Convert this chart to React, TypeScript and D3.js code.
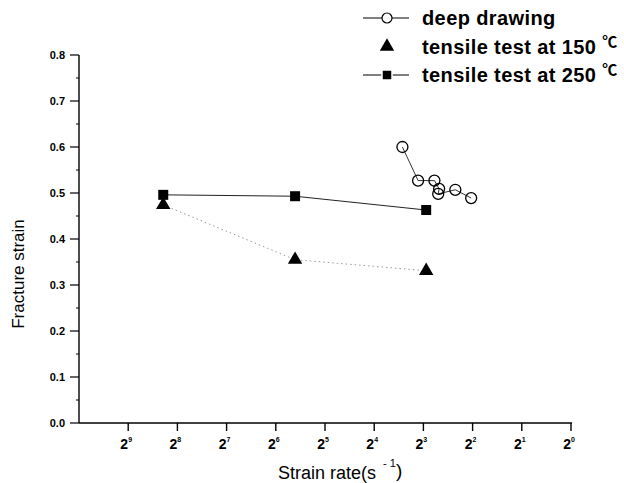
import React, { useEffect, useRef } from "react";
import * as d3 from "d3";

// strain rate (s^-1) and fracture strain
const deepRate = [0.093, 0.116, 0.146, 0.156, 0.154, 0.196, 0.245];
const deepStrain = [0.6, 0.527, 0.527, 0.509, 0.498, 0.507, 0.489];

const tensileRate = [0.0032, 0.0205, 0.13];
const strain150 = [0.474, 0.355, 0.331];
const strain250 = [0.496, 0.493, 0.463];

const yTicks = [0, 0.1, 0.2, 0.3, 0.4, 0.5, 0.6, 0.7, 0.8];
const xExponents = [9, 8, 7, 6, 5, 4, 3, 2, 1, 0];

const legendLabels = ["deep drawing", "tensile test at 150 ", "tensile test at 250 "];

const App = () => {
  const ref = useRef<SVGSVGElement>(null);

  useEffect(() => {
    const svg = d3.select(ref.current);
    svg.selectAll("*").remove();

    const font = "'Liberation Sans', Arial, sans-serif";
    const x = d3.scaleLog().base(2).domain([Math.pow(2, -10), 1]).range([79, 571]);
    const y = d3.scaleLinear().domain([0, 0.8]).range([423, 55]);

    const g = svg.append("g");

    // y axis
    g.append("line").attr("x1", 79).attr("x2", 79).attr("y1", y(0.8)).attr("y2", y(0))
      .attr("stroke", "#000").attr("stroke-width", 1.4);
    yTicks.forEach((t) => {
      g.append("line").attr("x1", 70).attr("x2", 79).attr("y1", y(t)).attr("y2", y(t))
        .attr("stroke", "#000").attr("stroke-width", 1.2);
      g.append("text").attr("x", 65).attr("y", y(t) + 4).attr("text-anchor", "end")
        .attr("font-family", font).attr("font-size", 11).attr("font-weight", "bold")
        .text(t.toFixed(1));
      if (t < 0.8) {
        g.append("line").attr("x1", 76).attr("x2", 79).attr("y1", y(t + 0.05)).attr("y2", y(t + 0.05))
          .attr("stroke", "#000").attr("stroke-width", 1);
      }
    });

    // x axis
    g.append("line").attr("x1", 79).attr("x2", 572).attr("y1", y(0)).attr("y2", y(0))
      .attr("stroke", "#000").attr("stroke-width", 1.4);
    xExponents.forEach((e) => {
      const px = x(Math.pow(2, -e));
      g.append("line").attr("x1", px).attr("x2", px).attr("y1", y(0)).attr("y2", y(0) + 8)
        .attr("stroke", "#000").attr("stroke-width", 1.4);
      const t = g.append("text").attr("x", px - 2).attr("y", 449).attr("text-anchor", "middle")
        .attr("font-family", font).attr("font-size", 14).attr("font-weight", "bold");
      t.append("tspan").text("2");
      t.append("tspan").attr("font-size", 7).attr("dy", -7).text(String(e));
    });

    // axis titles
    const xt = g.append("text").attr("x", 278).attr("y", 479)
      .attr("font-family", font).attr("font-size", 18);
    xt.append("tspan").text("Strain rate(s");
    xt.append("tspan").attr("font-size", 11).attr("dx", 7).attr("dy", -12).text("- 1");
    xt.append("tspan").attr("dy", 10).attr("font-size", 19).text(")");

    g.append("text").attr("transform", `translate(24,274) rotate(-90)`).attr("text-anchor", "middle")
      .attr("font-family", font).attr("font-size", 17).text("Fracture strain");

    // 150 C dotted line
    const line = d3.line<[number, number]>().x((d) => x(d[0])).y((d) => y(d[1]));
    g.append("path").attr("d", line(tensileRate.map((r, i) => [r, strain150[i]]))!)
      .attr("fill", "none").attr("stroke", "#999").attr("stroke-width", 1).attr("stroke-dasharray", "1.5,3");
    // 250 C solid line
    g.append("path").attr("d", line(tensileRate.map((r, i) => [r, strain250[i]]))!)
      .attr("fill", "none").attr("stroke", "#222").attr("stroke-width", 1);
    // deep drawing line
    g.append("path").attr("d", line(deepRate.map((r, i) => [r, deepStrain[i]]))!)
      .attr("fill", "none").attr("stroke", "#333").attr("stroke-width", 1);

    const tri = d3.symbol().type(d3.symbolTriangle).size(90);
    const sq = d3.symbol().type(d3.symbolSquare).size(100);

    g.selectAll("path.tri").data(tensileRate).join("path").attr("class", "tri")
      .attr("d", tri).attr("transform", (d, i) => `translate(${x(d)},${y(strain150[i])})`)
      .attr("fill", "#000");
    g.selectAll("path.sq").data(tensileRate).join("path").attr("class", "sq")
      .attr("d", sq).attr("transform", (d, i) => `translate(${x(d)},${y(strain250[i])})`)
      .attr("fill", "#000");
    g.selectAll("circle.deep").data(deepRate).join("circle").attr("class", "deep")
      .attr("cx", (d) => x(d)).attr("cy", (d, i) => y(deepStrain[i])).attr("r", 5.5)
      .attr("fill", "none").attr("stroke", "#000").attr("stroke-width", 1.3);

    // legend
    const lx = 363, tx = 422;
    legendLabels.forEach((label, i) => {
      const ly = 18 + i * 28.5;
      if (i !== 1) {
        g.append("line").attr("x1", lx).attr("x2", lx + 46).attr("y1", ly).attr("y2", ly)
          .attr("stroke", "#000").attr("stroke-width", 1);
      }
      if (i === 0) {
        g.append("circle").attr("cx", lx + 24).attr("cy", ly).attr("r", 5)
          .attr("fill", "#fff").attr("stroke", "#000").attr("stroke-width", 1.2);
      } else if (i === 1) {
        g.append("path").attr("d", tri).attr("transform", `translate(${lx + 24},${ly})`).attr("fill", "#000");
      } else {
        g.append("rect").attr("x", lx + 19).attr("y", ly - 5).attr("width", 10).attr("height", 10)
          .attr("fill", "#000").attr("stroke", "#fff").attr("stroke-width", 1.5);
      }
      const t = g.append("text").attr("x", tx).attr("y", ly + 7)
        .attr("font-family", font).attr("font-size", 20).attr("font-weight", "bold")
        .attr("letter-spacing", 0.4).text(label);
      if (i > 0) {
        t.append("tspan").attr("font-family", "'Noto Sans CJK SC', sans-serif").attr("font-weight", "bold")
          .attr("font-size", 15).attr("dy", -7).text("℃");
      }
    });
  }, []);

  return (
    <svg
      ref={ref}
      width={624}
      height={483}
      style={{ display: "block", position: "absolute", left: 0, top: 0, background: "#fff" }}
    />
  );
};

export default App;
